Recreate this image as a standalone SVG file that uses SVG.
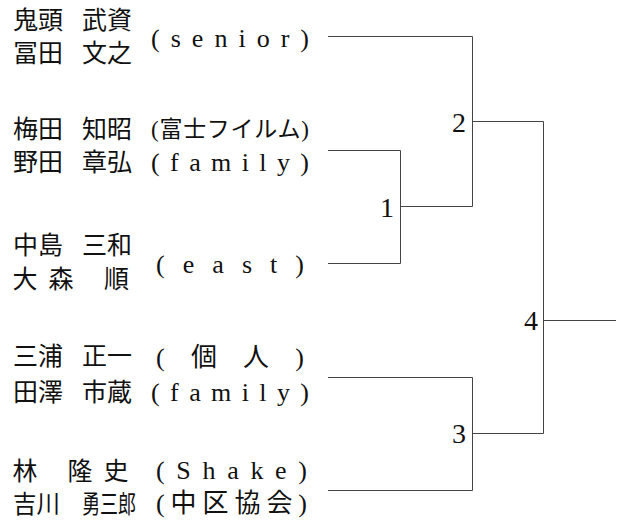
<svg xmlns="http://www.w3.org/2000/svg" width="620" height="527" viewBox="0 0 620 527">
<style>
.nm{font-family:"Noto Sans CJK JP","Noto Sans CJK SC",sans-serif;font-size:25px;fill:#111}
.af{font-family:"Liberation Serif","Noto Sans CJK JP",serif;font-size:26px;fill:#111}
.sm{font-size:23px}
.num{font-family:"Liberation Serif",serif;font-size:28px;fill:#111;text-anchor:end}
.ln{fill:none;stroke:#444;stroke-width:1}
</style>
<rect width="620" height="527" fill="#fff"/>
<g id="entry-senior">
<text class="nm" x="13" y="29">鬼頭</text><text class="nm" x="82" y="29">武資</text>
<text class="nm" x="13" y="62">冨田</text><text class="nm" x="82" y="62">文之</text>
<text class="af" x="151" y="47" textLength="158" lengthAdjust="spacing">(senior)</text>
</g>
<g id="entry-fujifilm">
<text class="nm" x="13" y="138">梅田</text><text class="nm" x="82" y="138">知昭</text>
<text class="nm" x="13" y="171">野田</text><text class="nm" x="82" y="171">章弘</text>
<text class="af sm" x="151" y="137" textLength="158" lengthAdjust="spacing">(富士フイルム)</text>
<text class="af" x="151" y="171" textLength="158" lengthAdjust="spacing">(family)</text>
</g>
<g id="entry-east">
<text class="nm" x="13" y="254">中島</text><text class="nm" x="82" y="254">三和</text>
<text class="nm" x="12.5" y="288" textLength="61" lengthAdjust="spacing">大森</text><text class="nm" x="104" y="288">順</text>
<text class="af" x="156" y="273" textLength="148" lengthAdjust="spacing">(east)</text>
</g>
<g id="entry-kojin">
<text class="nm" x="13" y="365">三浦</text><text class="nm" x="82" y="365">正一</text>
<text class="nm" x="13" y="401">田澤</text><text class="nm" x="82" y="401">市蔵</text>
<text class="af" x="156" y="366" textLength="148" lengthAdjust="spacing">(個人)</text>
<text class="af" x="151" y="401" textLength="158" lengthAdjust="spacing">(family)</text>
</g>
<g id="entry-shake">
<text class="nm" x="12.5" y="480">林</text><text class="nm" x="67.5" y="480" textLength="61" lengthAdjust="spacing">隆史</text>
<text class="nm" x="13" y="513" textLength="47" lengthAdjust="spacingAndGlyphs">吉川</text><text class="nm" x="82" y="513" textLength="54" lengthAdjust="spacingAndGlyphs">勇三郎</text>
<text class="af" x="156" y="479" textLength="151" lengthAdjust="spacing">(Shake)</text>
<text class="af" x="156" y="512" textLength="151" lengthAdjust="spacing">(中区協会)</text>
</g>
<g id="connectors">
<path class="ln" d="M328,36.5H472.5V206.5"/>
<path class="ln" d="M328,150.5H400.5V263.5H328"/>
<path class="ln" d="M400.5,206.5H472.5"/>
<path class="ln" d="M472.5,121.5H543.5V433.5H472.5"/>
<path class="ln" d="M328,377.5H472.5V490.5H328"/>
<path class="ln" d="M543.5,320.5H616"/>
</g>
<g id="match-labels">
<text class="num" x="466" y="132">2</text>
<text class="num" x="394" y="217">1</text>
<text class="num" x="466" y="443">3</text>
<text class="num" x="538" y="330">4</text>
</g>
</svg>
